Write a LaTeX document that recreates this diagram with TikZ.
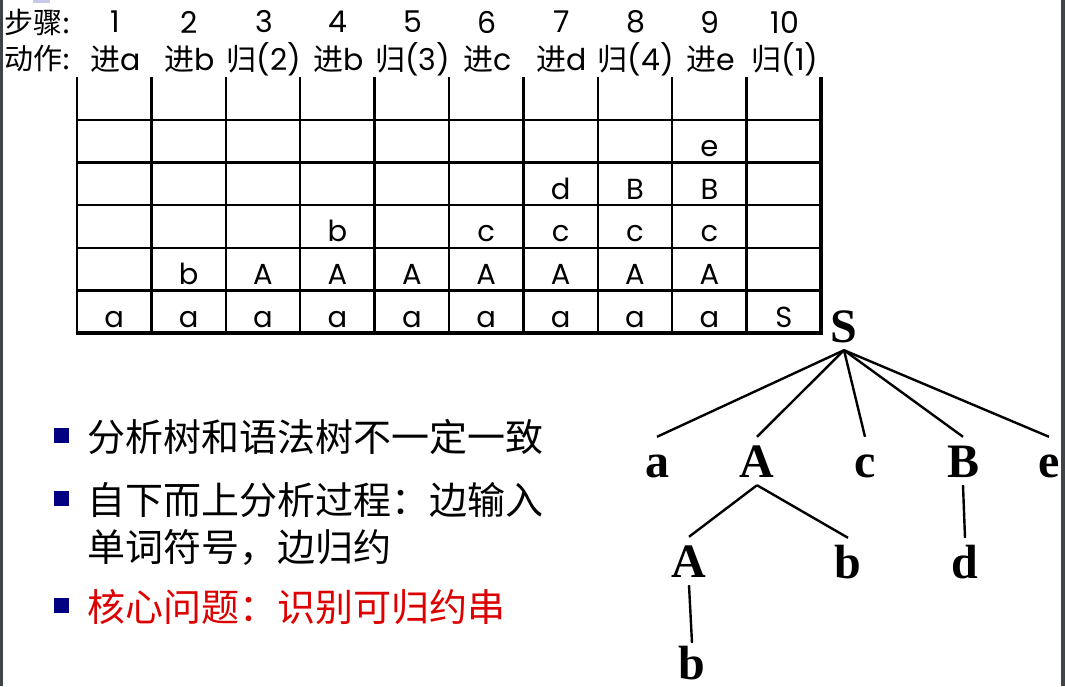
\documentclass[tikz,border=0pt]{standalone}
\usepackage{fontspec}
\usepackage{tikz}
\usetikzlibrary{positioning}
\setmainfont{Liberation Serif}
\newfontfamily\cjk{Noto Sans CJK SC}
\newfontfamily\geo{Poppins}
\newfontfamily\tms{Liberation Serif}
\definecolor{navybox}{RGB}{0,0,128}
\definecolor{keyred}{RGB}{220,0,0}
\definecolor{frame}{RGB}{63,68,72}
\definecolor{tabpurple}{RGB}{200,200,232}
\newcommand{\jinzi}{{\cjk 进}}
\newcommand{\guizi}{{\cjk 归}}

\begin{document}
\begin{tikzpicture}[x=1pt, y=-1pt, line width=2.4pt,
    headcell/.style={font=\geo\fontsize{30}{30}\selectfont, inner sep=0pt},
    stackcell/.style={font=\geo\fontsize{29}{29}\selectfont, anchor=base, inner sep=0pt},
    treenode/.style={font=\tms\bfseries\fontsize{48}{48}\selectfont, anchor=base,
      text height=32pt, text depth=0pt, inner xsep=2pt, inner ysep=7pt},
    branch/.style={line width=2.4pt},
    itembox/.style={fill=navybox, draw=none, minimum size=15pt, inner sep=0pt},
    item/.style={font=\cjk\fontsize{38}{38}\selectfont, anchor=base west, inner sep=0pt}]
    \fill[white] (0,0) rectangle (1065,686);
    \useasboundingbox (0,0) rectangle (1065,686);
    % window edges
    \fill[frame] (0,0) rectangle (3,686);
    \fill[frame] (1061,0) rectangle (1065,686);
    \fill[tabpurple] (33,0) rectangle (50,3);

    % header rows
    \node[headcell, anchor=west, font=\cjk\fontsize{29}{29}\selectfont] (steplabel) at (3,22) {步骤:};
    \node[headcell, anchor=west, font=\cjk\fontsize{29}{29}\selectfont] (actlabel) at (3,59) {动作:};
    \foreach \n/\act in {1/{\jinzi a}, 2/{\jinzi b}, 3/{\guizi(2)}, 4/{\jinzi b}, 5/{\guizi(3)},
                        6/{\jinzi c}, 7/{\jinzi d}, 8/{\guizi(4)}, 9/{\jinzi e}, 10/{\guizi(1)}} {
      \node[headcell] (step\n) at ({78+74.4*(\n-0.5)},22) {\n};
      \node[headcell] (act\n) at ({78+74.4*(\n-0.5)},59) {\act};
    }

    % stack table
    \foreach \i in {0,...,9}
      \draw ({77+74.4*\i},77) -- ({77+74.4*\i},333);
    \foreach \y in {120,162.6,205.2,247.8,290.4}
      \draw (77,\y) -- (821,\y);
    \draw[line width=3.5pt] (821,77) -- (821,333) -- (75.5,333);

    \foreach \col/\stack in {1/{a}, 2/{a,b}, 3/{a,A}, 4/{a,A,b}, 5/{a,A},
                             6/{a,A,c}, 7/{a,A,c,d}, 8/{a,A,c,B}, 9/{a,A,c,B,e}, 10/{S}}
      \foreach \sym [count=\r] in \stack
        \node[stackcell] (c\col-\r) at ({77+74.4*(\col-0.5)},{327-42.6*(\r-1)}) {\sym};

    % syntax tree
    \node[treenode] (S) at (844,342) {S};
    \node[treenode] (ta) at (657,477) {a};
    \node[treenode] (tA) at (757,477) {A};
    \node[treenode] (tc) at (865,477) {c};
    \node[treenode] (tB) at (963,477) {B};
    \node[treenode] (te) at (1049,477) {e};
    \node[treenode] (tAA) at (689,577) {A};
    \node[treenode] (tb) at (848,578) {b};
    \node[treenode] (td) at (965,578) {d};
    \node[treenode, inner ysep=3pt] (tbb) at (692,679) {b};
    \foreach \kid in {ta,tA,tc,tB,te}
      \draw[branch] (S.south) -- (\kid.north);
    \draw[branch] (tA.south) -- (tAA.north);
    \draw[branch] (tA.south) -- (tb.north);
    \draw[branch] (tB.south) -- (td.north);
    \draw[branch] (tAA.south) -- (tbb.north);

    % bullet points
    \node[itembox] (box1) at (61,435) {};
    \node[item] (item1) at (86,451) {分析树和语法树不一定一致};
    \node[itembox] (box2) at (61,498) {};
    \node[item] (item2) at (86,514) {自下而上分析过程：边输入};
    \node[item] (item2b) at (86,561) {单词符号，边归约};
    \node[itembox] (box3) at (61,605) {};
    \node[item, text=keyred] (item3) at (86,621) {核心问题：识别可归约串};
\end{tikzpicture}
\end{document}
